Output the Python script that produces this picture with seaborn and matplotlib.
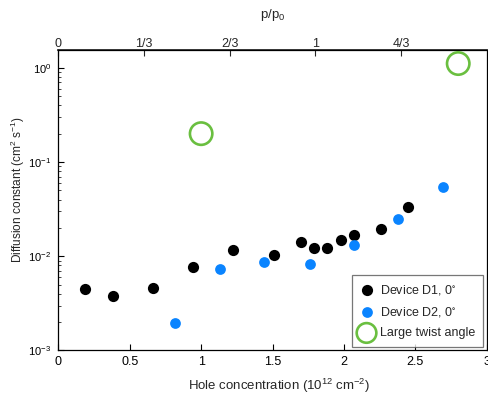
import matplotlib
matplotlib.use("Agg")
import matplotlib.pyplot as plt
import seaborn as sns
from matplotlib.ticker import LogLocator, NullFormatter

# Device D1, 0 deg
d1_x = [0.19, 0.38, 0.66, 0.94, 1.22, 1.51, 1.70, 1.79, 1.88, 1.98, 2.07, 2.26, 2.45]
d1_y = [0.00446, 0.00375, 0.00457, 0.00770, 0.0117, 0.0102, 0.0141, 0.0122, 0.0122, 0.0148, 0.0167, 0.0195, 0.0333]

# Device D2, 0 deg
d2_x = [0.82, 1.13, 1.44, 1.76, 2.07, 2.38, 2.69]
d2_y = [0.00194, 0.00730, 0.00870, 0.00825, 0.0132, 0.0248, 0.0545]

# Large twist angle
lt_x = [1.00, 2.80]
lt_y = [0.200, 1.11]

p0 = 1.8
top_ticks = [0, 1/3, 2/3, 1, 4/3]
top_labels = ["0", "1/3", "2/3", "1", "4/3"]

sns.set_theme(style="ticks")
plt.rcParams["font.family"] = ["Liberation Sans", "DejaVu Sans"]
plt.rcParams["mathtext.fontset"] = "custom"
plt.rcParams["mathtext.rm"] = "Liberation Sans"
plt.rcParams["mathtext.it"] = "Liberation Sans"
plt.rcParams["mathtext.default"] = "regular"

fig = plt.figure(figsize=(4.88, 3.96), dpi=100)
ax = fig.add_axes([0.1195, 0.115, 0.878, 0.759])

blue = "#0a84ff"
green = "#6abf40"

sns.scatterplot(x=d1_x, y=d1_y, ax=ax, color="black", s=65, linewidth=0,
                label="Device D1, 0$^{\\circ}$", zorder=3)
sns.scatterplot(x=d2_x, y=d2_y, ax=ax, color=blue, s=60, linewidth=0,
                label="Device D2, 0$^{\\circ}$", zorder=3)
sns.scatterplot(x=lt_x, y=lt_y, ax=ax, facecolor="none", edgecolor=green, s=260,
                linewidth=1.9, label="Large twist angle", zorder=3)

ax.set_yscale("log")
ax.set_xlim(0, 3)
ax.set_ylim(1e-3, 10 ** 0.19)
ax.set_xticks([0, 0.5, 1, 1.5, 2, 2.5, 3])
ax.set_xticklabels(["0", "0.5", "1", "1.5", "2", "2.5", "3"])
ax.yaxis.set_major_locator(LogLocator(base=10, numticks=10))
ax.yaxis.set_minor_locator(LogLocator(base=10, subs=range(2, 10), numticks=10))
ax.yaxis.set_minor_formatter(NullFormatter())

for side in ["top", "bottom", "left", "right"]:
    ax.spines[side].set_visible(True)
    ax.spines[side].set_linewidth(0.9)
    ax.spines[side].set_color("black")

ax.tick_params(axis="both", which="major", direction="in", length=4, width=0.8,
               colors="black", pad=4)
ax.tick_params(axis="x", which="major", labelsize=9)
ax.tick_params(axis="y", which="major", labelsize=8, pad=5)
ax.tick_params(axis="y", which="minor", direction="in", length=2.2, width=0.6)
ax.tick_params(axis="x", which="minor", bottom=False)

ax.set_xlabel("Hole concentration (10$^{12}$ cm$^{-2}$)", fontsize=9.5)
ax.xaxis.set_label_coords(0.515, -0.088)
ax.set_ylabel("Diffusion constant (cm$^{2}$ s$^{-1}$)", fontsize=8.6)
ax.yaxis.set_label_coords(-0.072, 0.535)

secax = ax.secondary_xaxis("top", functions=(lambda x: x / p0, lambda p: p * p0))
secax.set_xticks(top_ticks)
secax.set_xticklabels(top_labels)
secax.tick_params(direction="in", length=4, width=0.8, labelsize=9, pad=0)
secax.set_xlabel("p/p$_{0}$", fontsize=9.5, labelpad=14)

leg = ax.legend(loc="lower right", frameon=True, fancybox=False, fontsize=9,
                edgecolor="#555555", borderpad=0.6, handletextpad=0.5,
                labelspacing=0.65, borderaxespad=0.3, handlelength=1.2)
leg.get_frame().set_linewidth(0.9)
leg.legend_handles[2].set_sizes([200])

fig.savefig("out.png", dpi=100)
